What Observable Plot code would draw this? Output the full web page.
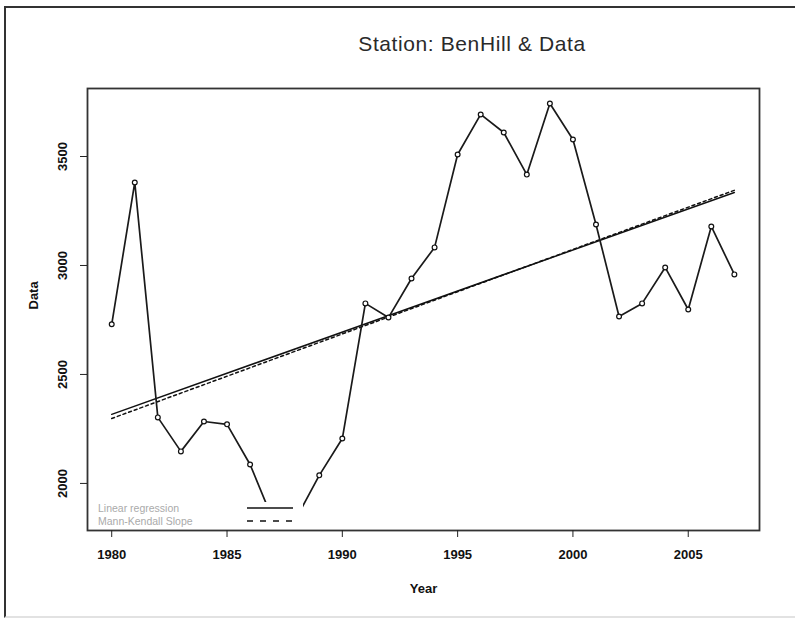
<!DOCTYPE html>
<html>
<head>
<meta charset="utf-8">
<script src="https://cdn.jsdelivr.net/npm/d3@7"></script>
<script src="https://cdn.jsdelivr.net/npm/@observablehq/plot@0.6"></script>
<style>
  html, body { margin: 0; padding: 0; background: #fff; }
  #wrap { position: relative; width: 795px; height: 621px; overflow: hidden; font-family: "Liberation Sans", Arial, sans-serif; }
  #border { position: absolute; left: 4px; top: 6px; width: 800px; height: 612px; border-left: 2px solid #333; border-top: 2px solid #333; border-bottom: 2px solid #e2e2e2; box-sizing: border-box; pointer-events: none; }
  #title { position: absolute; left: 272px; width: 400px; top: 32px; text-align: center; font-size: 21px; color: #2a2a2a; letter-spacing: 0.6px; }
  #legend { position: absolute; left: 89px; top: 502px; width: 214px; height: 26px; background: #fff; }
  #legend .t { position: absolute; left: 9px; font-size: 10.5px; color: #aaa; }
  #legend svg { position: absolute; left: 0; top: 0; }
</style>
</head>
<body>
<div id="wrap">
  <div id="chart"></div>
  <div id="border"></div>
  <div id="title">Station: BenHill &amp; Data</div>
  <div id="legend">
    <div class="t" style="top:0px">Linear regression</div>
    <div class="t" style="top:13px">Mann-Kendall Slope</div>
    <svg width="214" height="26">
      <line x1="158" x2="204" y1="6" y2="6" stroke="#111" stroke-width="1.6"></line>
      <line x1="158" x2="204" y1="19" y2="19" stroke="#111" stroke-width="1.6" stroke-dasharray="6,7"></line>
    </svg>
  </div>
</div>
<script>
const years = [1980,1981,1982,1983,1984,1985,1986,1987,1988,1989,1990,1991,1992,1993,1994,1995,1996,1997,1998,1999,2000,2001,2002,2003,2004,2005,2006,2007];
const values = [2730,3381,2303,2147,2284,2271,2087,1830,1840,2037,2206,2826,2761,2940,3083,3509,3693,3610,3417,3743,3578,3188,2766,2826,2991,2798,3179,2959];
const trendYears = [1980, 2007];
const linearReg = [2317, 3335];
const mannKendall = [2298, 3345];
const xTicks = [1980,1985,1990,1995,2000,2005];
const yTicks = [2000,2500,3000,3500];

const data = years.map((y,i) => ({year: y, value: values[i]}));
const lin = trendYears.map((y,i) => ({year: y, value: linearReg[i]}));
const mk = trendYears.map((y,i) => ({year: y, value: mannKendall[i]}));

const chart = Plot.plot({
  width: 795,
  height: 621,
  marginLeft: 87,
  marginRight: 36,
  marginTop: 88,
  marginBottom: 91,
  style: {fontFamily: "'Liberation Sans', Arial, sans-serif", background: "#fff", color: "#111"},
  x: {domain: [1978.95, 2008.09]},
  y: {domain: [1784, 3812]},
  marks: [
    Plot.line(lin, {x: "year", y: "value", stroke: "#111", strokeWidth: 1.5}),
    Plot.line(mk, {x: "year", y: "value", stroke: "#111", strokeWidth: 1.5, strokeDasharray: "3,3"}),
    Plot.line(data, {x: "year", y: "value", stroke: "#1a1a1a", strokeWidth: 1.7}),
    Plot.dot(data, {x: "year", y: "value", r: 2.4, fill: "#fff", stroke: "#111", strokeWidth: 1.2}),
    Plot.frame({stroke: "#333", strokeWidth: 1.8}),
    Plot.axisX({ticks: xTicks, tickSize: 7, tickPadding: 12, tickFormat: d => String(d), fontSize: 13, fontWeight: "bold", label: null, stroke: "#222"}),
    Plot.axisY({ticks: yTicks, tickSize: 7, tickPadding: 14, tickRotate: -90, tickFormat: d => String(d), fontSize: 13, fontWeight: "bold", label: null, stroke: "#222"}),
    Plot.text(["Year"], {frameAnchor: "bottom", dy: 62, fontSize: 13, fontWeight: "bold", fill: "#111"}),
    Plot.text(["Data"], {frameAnchor: "left", dx: -54, rotate: -90, fontSize: 13, fontWeight: "bold", fill: "#111"})
  ]
});
document.getElementById("chart").appendChild(chart);
</script>
</body>
</html>
